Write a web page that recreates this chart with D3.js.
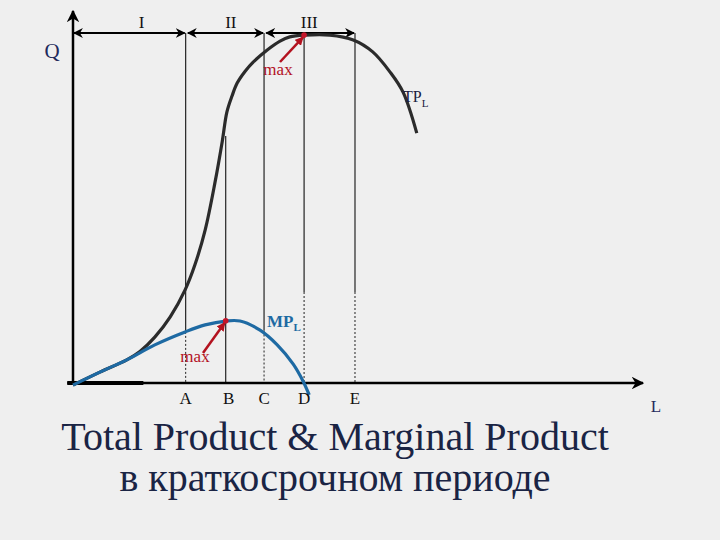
<!DOCTYPE html>
<html lang="ru">
<head>
<meta charset="UTF-8">
<script src="https://d3js.org/d3.v7.min.js"></script>
<title>Total Product & Marginal Product</title>
<style>
  body { margin: 0; background: #efefef; }
  svg { display: block; }
  .lbl { font-family: "Liberation Serif", serif; }
</style>
</head>
<body>
<script>
// total product curve (L, Q)
var tpL = [0, 4.7, 9.4, 11.7, 14.3, 17.0, 19.6, 21.3, 23.1, 24.8, 26.1, 26.9, 27.8, 28.7, 30.1, 31.5, 33.9, 36.2, 37.9, 40.6, 44.9, 49.0, 52.4, 55.4, 57.7, 60.1];
var tpQ = [-0.6, 3.1, 6.6, 9.0, 13.1, 18.9, 26.6, 33.7, 43.7, 57.1, 69.1, 77.4, 82.0, 85.7, 89.1, 91.7, 95.1, 97.7, 98.9, 99.4, 99.4, 98.0, 94.6, 88.9, 83.1, 71.4];

// marginal product curve (L, Q)
var mpL = [0, 4.7, 9.4, 14.3, 19.6, 23.1, 26.7, 29.2, 32.7, 35.7, 38.5, 40.2, 41.3];
var mpQ = [-0.6, 3.1, 6.6, 10.9, 14.6, 16.6, 17.7, 17.7, 15.1, 10.9, 5.4, 0.6, -3.4];

// points A..E on the L axis
var tickNames = ["A", "B", "C", "D", "E"];
var tickL = [19.7, 26.7, 33.4, 40.4, 49.3];
var guideTopQ = [100, 70.6, 100, 99.4, 100];
var guideDotQ = [14.6, 0, 15.0, 26.0, 26.0];  // below this Q the guide is dotted

// stages I, II, III
var stageNames = ["I", "II", "III"];
var stageFrom = [0, 19.9, 33.6];
var stageTo = [19.7, 33.4, 49.3];
var stageLabelL = [12.0, 27.6, 41.3];

// maxima
var tpMax = {L: 40.4, Q: 99.4};
var mpMax = {L: 26.7, Q: 17.8};

var width = 720, height = 540;

var x = d3.scaleLinear().domain([0, 100]).range([73, 645]);
var y = d3.scaleLinear().domain([0, 100]).range([383, 33]);

var svg = d3.select("body").append("svg")
    .attr("width", width)
    .attr("height", height);

svg.append("rect")
    .attr("width", width)
    .attr("height", height)
    .attr("fill", "#efefef");

// arrow markers
var defs = svg.append("defs");
defs.append("marker")
    .attr("id", "axisArrow")
    .attr("viewBox", "0 0 10 10")
    .attr("refX", 9).attr("refY", 5)
    .attr("markerWidth", 5).attr("markerHeight", 5)
    .attr("markerUnits", "strokeWidth")
    .attr("orient", "auto")
  .append("path")
    .attr("d", "M0,0L10,5L0,10L3,5Z")
    .attr("fill", "#000");
defs.append("marker")
    .attr("id", "stageArrow")
    .attr("viewBox", "0 0 10 10")
    .attr("refX", 9).attr("refY", 5)
    .attr("markerWidth", 4.5).attr("markerHeight", 4.5)
    .attr("markerUnits", "strokeWidth")
    .attr("orient", "auto-start-reverse")
  .append("path")
    .attr("d", "M0,0L10,5L0,10L3,5Z")
    .attr("fill", "#000");
defs.append("marker")
    .attr("id", "redArrow")
    .attr("viewBox", "0 0 10 10")
    .attr("refX", 9).attr("refY", 5)
    .attr("markerWidth", 3.5).attr("markerHeight", 3.5)
    .attr("markerUnits", "strokeWidth")
    .attr("orient", "auto")
  .append("path")
    .attr("d", "M0,0L10,5L0,10Z")
    .attr("fill", "#b3121f");

// guide lines (solid part, then dotted part)
tickL.forEach(function(l, i) {
  svg.append("line")
      .attr("x1", x(l)).attr("x2", x(l))
      .attr("y1", y(guideTopQ[i])).attr("y2", y(guideDotQ[i]))
      .attr("stroke", "#111").attr("stroke-width", 1.1);
  if (guideDotQ[i] > 0) {
    svg.append("line")
        .attr("x1", x(l)).attr("x2", x(l))
        .attr("y1", y(guideDotQ[i])).attr("y2", y(0))
        .attr("stroke", "#222").attr("stroke-width", 1)
        .attr("stroke-dasharray", "2,2");
  }
});

// stage brackets
stageNames.forEach(function(s, i) {
  svg.append("line")
      .attr("x1", x(stageFrom[i]) + 1).attr("x2", x(stageTo[i]) - 1)
      .attr("y1", y(100)).attr("y2", y(100))
      .attr("stroke", "#000").attr("stroke-width", 2.2)
      .attr("marker-start", "url(#stageArrow)")
      .attr("marker-end", "url(#stageArrow)");
  svg.append("text")
      .attr("class", "lbl")
      .attr("x", x(stageLabelL[i]))
      .attr("y", 28)
      .attr("text-anchor", "middle")
      .attr("font-size", 17)
      .attr("fill", "#111")
      .text(s);
});

// axes
svg.append("line")
    .attr("x1", x(0)).attr("x2", x(0))
    .attr("y1", y(-0.6)).attr("y2", 11)
    .attr("stroke", "#000").attr("stroke-width", 2.5)
    .attr("marker-end", "url(#axisArrow)");
svg.append("line")
    .attr("x1", x(-1)).attr("x2", 643)
    .attr("y1", y(0)).attr("y2", y(0))
    .attr("stroke", "#000").attr("stroke-width", 2.5)
    .attr("marker-end", "url(#axisArrow)");
svg.append("line")
    .attr("x1", x(-1)).attr("x2", x(12.3))
    .attr("y1", y(0)).attr("y2", y(0))
    .attr("stroke", "#000").attr("stroke-width", 4);

var line = d3.line()
    .x(function(d) { return x(d[0]); })
    .y(function(d) { return y(d[1]); })
    .curve(d3.curveCatmullRom.alpha(0.5));

// TP curve
svg.append("path")
    .datum(d3.zip(tpL, tpQ))
    .attr("d", line)
    .attr("fill", "none")
    .attr("stroke", "#2b2b2b")
    .attr("stroke-width", 3.2);

// MP curve
svg.append("path")
    .datum(d3.zip(mpL, mpQ))
    .attr("d", line)
    .attr("fill", "none")
    .attr("stroke", "#1e6aa3")
    .attr("stroke-width", 3.2);

// max markers
[[tpMax, 280, 62, 278, 75], [mpMax, 203, 353, 195, 362]].forEach(function(m) {
  var p = m[0];
  svg.append("line")
      .attr("x1", m[1]).attr("y1", m[2])
      .attr("x2", x(p.L) - 1).attr("y2", y(p.Q) + 2)
      .attr("stroke", "#b3121f").attr("stroke-width", 2.5)
      .attr("marker-end", "url(#redArrow)");
  svg.append("circle")
      .attr("cx", x(p.L)).attr("cy", y(p.Q))
      .attr("r", 2.8)
      .attr("fill", "#c4162a");
  svg.append("text")
      .attr("class", "lbl")
      .attr("x", m[3]).attr("y", m[4])
      .attr("text-anchor", "middle")
      .attr("font-size", 17)
      .attr("fill", "#b3121f")
      .text("max");
});

// tick letters
svg.selectAll(".tick-name")
    .data(tickNames)
  .enter().append("text")
    .attr("class", "lbl tick-name")
    .attr("x", function(d, i) { return x(tickL[i]) + (i === 1 ? 3 : 0); })
    .attr("y", 404)
    .attr("text-anchor", "middle")
    .attr("font-size", 17)
    .attr("fill", "#111")
    .text(function(d) { return d; });

// axis names
svg.append("text")
    .attr("class", "lbl")
    .attr("x", 52).attr("y", 58)
    .attr("text-anchor", "middle")
    .attr("font-size", 21)
    .attr("fill", "#1f2a5c")
    .text("Q");
svg.append("text")
    .attr("class", "lbl")
    .attr("x", 656).attr("y", 412)
    .attr("text-anchor", "middle")
    .attr("font-size", 17)
    .attr("fill", "#1f2a5c")
    .text("L");

// curve names
var tpText = svg.append("text")
    .attr("class", "lbl")
    .attr("x", 403).attr("y", 102)
    .attr("font-size", 16)
    .attr("fill", "#1a2040");
tpText.append("tspan").text("TP");
tpText.append("tspan").attr("font-size", 11).attr("dy", 5).text("L");

var mpText = svg.append("text")
    .attr("class", "lbl")
    .attr("x", 267).attr("y", 327)
    .attr("font-size", 17)
    .attr("font-weight", "bold")
    .attr("fill", "#1e6aa3");
mpText.append("tspan").text("MP");
mpText.append("tspan").attr("font-size", 11).attr("dy", 4).text("L");

// title
svg.append("text")
    .attr("class", "lbl")
    .attr("x", 335).attr("y", 450)
    .attr("text-anchor", "middle")
    .attr("font-size", 40)
    .attr("fill", "#1a2444")
    .text("Total Product & Marginal Product");
svg.append("text")
    .attr("class", "lbl")
    .attr("x", 335).attr("y", 491)
    .attr("text-anchor", "middle")
    .attr("font-size", 40)
    .attr("fill", "#1a2444")
    .text("в краткосрочном периоде");
</script>
</body>
</html>
